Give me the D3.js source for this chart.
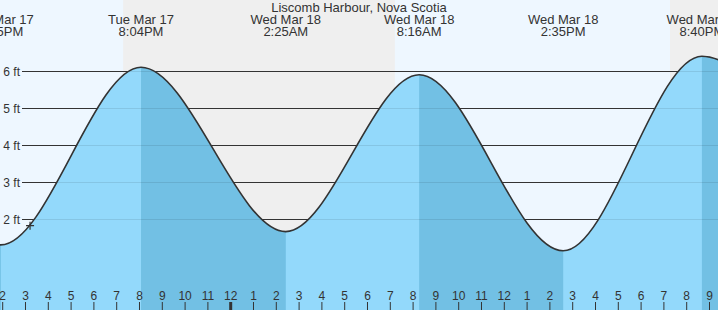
<!DOCTYPE html>
<html><head><meta charset="utf-8">
<script src="https://cdn.jsdelivr.net/npm/d3@7"></script>
<style>html,body{margin:0;padding:0;background:#fff}svg{display:block;font-family:"Liberation Sans",Arial,sans-serif}</style>
</head><body><svg id="c" width="718" height="310"></svg>
<script>
const title = "Liscomb Harbour, Nova Scotia";
// tide extremes (times as local clock, stored in UTC)
const extremeTimes = ["2026-03-17T07:40","2026-03-17T13:55","2026-03-17T20:04","2026-03-18T02:25","2026-03-18T08:16","2026-03-18T14:35","2026-03-18T20:40","2026-03-19T02:55"];
const extremeHeights = [5.8, 1.3, 6.1, 1.66, 5.9, 1.14, 6.4, 1.5];
const extremeTypes = ["H","L","H","L","H","L","H","L"];
const nightStarts = ["2026-03-16T19:16","2026-03-17T19:17","2026-03-18T19:16"];
const nightEnds = ["2026-03-17T07:13","2026-03-18T07:12","2026-03-19T07:11"];
const yTicks = [2, 3, 4, 5, 6];
const yTickLabels = ["2 ft", "3 ft", "4 ft", "5 ft", "6 ft"];
const viewStart = "2026-03-17T13:52:54";
const viewEnd = "2026-03-18T21:22:22";
const nowTime = "2026-03-17T15:12";
const nowHeight = 1.82;

const W = 718, H = 310;
const P = s => new Date(s + "Z");
const svg = d3.select("#c");
const x = d3.scaleUtc().domain([P(viewStart), P(viewEnd)]).range([0, W]);
const y = d3.scaleLinear().domain([0, 6]).range([293, 71]);

const pts = extremeTimes.map((t, i) => ({t: P(t), h: extremeHeights[i], type: extremeTypes[i]}));

// background: day then night
svg.append("rect").attr("x", 0).attr("y", 0).attr("width", W).attr("height", H).attr("fill", "#eef7ff");
svg.selectAll("rect.night").data(nightStarts.map((s, i) => [P(s), P(nightEnds[i])])).join("rect")
  .attr("class", "night")
  .attr("x", d => x(d[0])).attr("width", d => x(d[1]) - x(d[0]))
  .attr("y", 0).attr("height", H).attr("fill", "#efefef");

// grid lines (under)
svg.selectAll("line.grid").data(yTicks).join("line").attr("class", "grid")
  .attr("x1", 22).attr("x2", W).attr("y1", d => Math.round(y(d)) + 0.5).attr("y2", d => Math.round(y(d)) + 0.5)
  .attr("stroke", "#333").attr("stroke-width", 1);
svg.selectAll("text.ylab").data(yTicks).join("text").attr("class", "ylab")
  .attr("x", 20).attr("y", d => y(d) + 5).attr("text-anchor", "end")
  .attr("font-size", 12).attr("fill", "#333").text((d, i) => yTickLabels[i]);

// area
const area = d3.area().x(d => x(d.t)).y0(H).y1(d => y(d.h)).curve(d3.curveMonotoneX);
const line = d3.line().x(d => x(d.t)).y(d => y(d.h)).curve(d3.curveMonotoneX);
svg.append("clipPath").attr("id", "ac").append("path").attr("d", area(pts));
svg.append("path").attr("d", area(pts)).attr("fill", "#93d9fb");
// falling segments darker
const falls = [];
for (let i = 0; i < pts.length - 1; i++) if (pts[i].type === "H") falls.push([pts[i].t, pts[i + 1].t]);
svg.append("g").attr("clip-path", "url(#ac)").selectAll("rect").data(falls).join("rect")
  .attr("x", d => x(d[0])).attr("width", d => x(d[1]) - x(d[0]))
  .attr("y", 0).attr("height", H).attr("fill", "#72c0e4");

// faint grid through water
svg.append("g").attr("clip-path", "url(#ac)").selectAll("line").data(yTicks).join("line")
  .attr("x1", 22).attr("x2", W).attr("y1", d => Math.round(y(d)) + 0.5).attr("y2", d => Math.round(y(d)) + 0.5)
  .attr("stroke", "#000").attr("stroke-opacity", 0.09);

// curve
svg.append("path").attr("d", line(pts)).attr("fill", "none").attr("stroke", "#333").attr("stroke-width", 1.6);

// now marker
const nx = x(P(nowTime)), ny = y(nowHeight);
svg.append("path").attr("d", `M${nx - 4},${ny}H${nx + 4}M${nx},${ny - 4}V${ny + 4}`)
  .attr("stroke", "#333").attr("stroke-width", 1.2).attr("fill", "none");

// hour ticks
const hours = d3.utcHour.range(x.domain()[0], x.domain()[1]);
const fmtH = d3.utcFormat("%-I");
svg.selectAll("line.tick").data(hours).join("line").attr("class", "tick")
  .attr("x1", d => x(d)).attr("x2", d => x(d)).attr("y1", 302).attr("y2", H)
  .attr("stroke", "#333").attr("stroke-width", d => d.getUTCHours() === 0 ? 3 : 1);
svg.selectAll("text.hl").data(hours).join("text").attr("class", "hl")
  .attr("x", d => x(d)).attr("y", 300).attr("text-anchor", "middle")
  .attr("font-size", 12).attr("fill", "#333").text(d => fmtH(d));

// extreme labels
const fmtD = d3.utcFormat("%a %b %-d"), fmtT = d3.utcFormat("%-I:%M%p");
const vis = pts.filter(d => d.t >= x.domain()[0] - 3600e3 && d.t <= x.domain()[1]);
const lg = svg.selectAll("g.lab").data(vis).join("g").attr("class", "lab");
lg.append("text").attr("x", d => x(d.t)).attr("y", 24).attr("text-anchor", "middle")
  .attr("font-size", 13).attr("fill", "#333").text(d => fmtD(d.t));
lg.append("text").attr("x", d => x(d.t)).attr("y", 36).attr("text-anchor", "middle")
  .attr("font-size", 13).attr("fill", "#333").text(d => fmtT(d.t));

svg.append("text").attr("x", 359).attr("y", 12).attr("text-anchor", "middle")
  .attr("font-size", 13).attr("fill", "#333").text(title);
</script></body></html>
